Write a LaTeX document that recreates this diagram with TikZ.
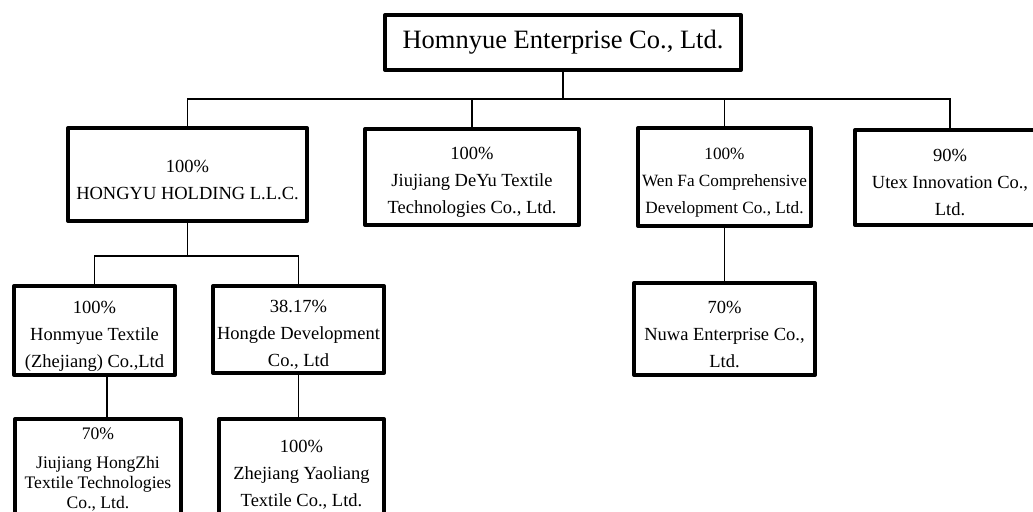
\documentclass[tikz,border=0pt]{standalone}
\usepackage{fontspec}
\setmainfont{Liberation Serif}
\usetikzlibrary{calc}
\tikzset{
    firm/.style = {draw, rectangle, line width=2pt, line join=round,
        inner sep=1pt, align=center,
        font=\fontsize{9.25}{13.5}\selectfont},
    link/.style = {draw, line width=0.8pt},
}
\newcommand{\share}[1]{\rule{0pt}{11.5pt}#1\%}

\begin{document}
\begin{tikzpicture}[x=0.5pt, y=-0.5pt]
    \useasboundingbox (0,0) rectangle (1033,511);
    \clip (0,0) rectangle (1033,511);
        % parent
        \node [firm, minimum width=178pt, minimum height=27.5pt,
               font=\fontsize{13.25}{16}\selectfont] (homnyue) at (563,42.5) {Homnyue Enterprise Co., Ltd.};
        % first level
        \node [firm, minimum width=119.5pt, minimum height=46.5pt] (hongyu) at (187.5,174.5) {\share{100}\\HONGYU HOLDING L.L.C.};
        \node [firm, minimum width=107pt, minimum height=48pt] (deyu) at (472,177) {\share{100}\\Jiujiang DeYu Textile\\Technologies Co., Ltd.};
        \node [firm, minimum width=86.5pt, minimum height=49pt,
               font=\fontsize{8.6}{13.5}\selectfont] (wenfa) at (724.5,177) {\share{100}\\Wen Fa Comprehensive\\Development Co., Ltd.};
        \node [firm, minimum width=95pt, minimum height=47.5pt] (utex) at (950,177.5) {\share{90}\\Utex Innovation Co.,\\Ltd.};
        % second level
        \node [firm, minimum width=80.5pt, minimum height=44.5pt] (honmyue) at (94.5,330.5) {\share{100}\\Honmyue Textile\\(Zhejiang) Co.,Ltd};
        \node [firm, minimum width=85.5pt, minimum height=43.5pt] (hongde) at (298.5,329.5) {\share{38.17}\\Hongde Development\\Co., Ltd};
        \node [firm, minimum width=90.5pt, minimum height=46pt] (nuwa) at (724.5,329) {\share{70}\\Nuwa Enterprise Co.,\\Ltd.};
        % third level
        \node [firm, minimum width=83pt, minimum height=50pt,
               font=\fontsize{8.8}{10}\selectfont] (hongzhi) at (98,469) {70\%\\[4.5pt]Jiujiang HongZhi\\Textile Technologies\\Co., Ltd.};
        \node [firm, minimum width=82.5pt, minimum height=50pt] (yaoliang) at (301.5,469) {\share{100}\\Zhejiang Yaoliang\\Textile Co., Ltd.};
        % connectors
        \coordinate (bus1) at (563,99);
        \coordinate (bus2) at (187.5,256);
        \draw [link] (homnyue.south) -- (bus1);
        \draw [link] (hongyu.north) |- (bus1) -| (utex.north);
        \draw [link] (deyu.north) -- (deyu.north |- bus1);
        \draw [link] (wenfa.north) -- (wenfa.north |- bus1);
        \draw [link] (hongyu.south) -- (bus2);
        \draw [link] (honmyue.north) |- (bus2) -| (hongde.north);
        \draw [link] (wenfa.south) -- (nuwa.north);
        \draw [link] ([xshift=6.25pt]honmyue.south) -- ([xshift=6.25pt]honmyue.south |- hongzhi.north);
        \draw [link] (hongde.south) -- (hongde.south |- yaoliang.north);
\end{tikzpicture}
\end{document}
